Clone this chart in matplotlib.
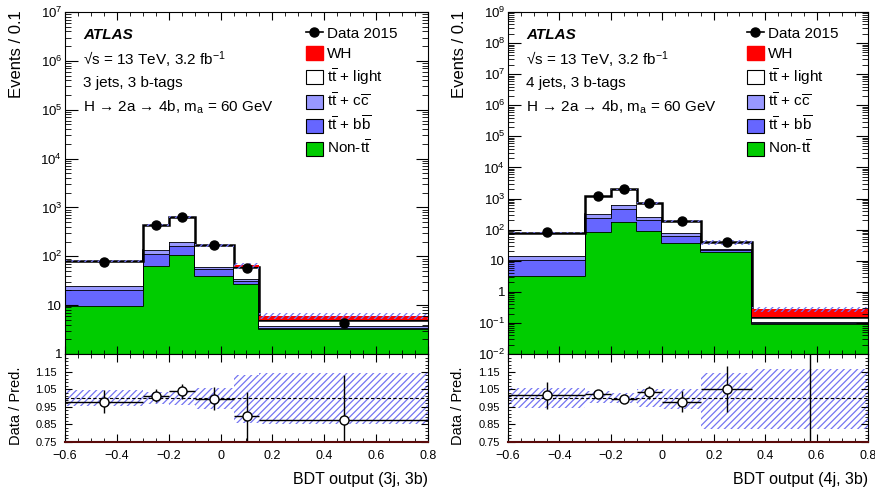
import numpy as np
import matplotlib
matplotlib.use("Agg")
from matplotlib import pyplot as plt
from matplotlib.patches import Patch
from matplotlib.lines import Line2D
from matplotlib.ticker import (LogLocator, FixedLocator, FuncFormatter,
                               MultipleLocator, NullFormatter)

plt.rcParams["font.family"] = ["Liberation Sans", "DejaVu Sans"]
plt.rcParams["mathtext.fontset"] = "custom"
plt.rcParams["mathtext.rm"] = "Liberation Sans"
plt.rcParams["mathtext.it"] = "Liberation Sans:italic"
plt.rcParams["mathtext.bf"] = "Liberation Sans:bold"
plt.rcParams["hatch.linewidth"] = 0.9

GREEN = "#00cc00"
BB = "#6666ff"
CC = "#9999ff"
RED = "#ff0000"
BAND = "#7474f2"

# ---- 3 jets, 3 b-tags ----
edges_3j = [-0.6, -0.3, -0.2, -0.1, 0.05, 0.15, 0.8]
nontt_3j = [9.6, 63, 105, 39, 27, 3.2]
ttbb_3j = [10.4, 48, 59, 15, 4, 0.2]
ttcc_3j = [5, 23, 28, 7, 4, 0.3]
ttlight_3j = [55, 298, 436, 107, 26, 1.3]
wh_3j = [0.1, 0.5, 0.8, 0.8, 4, 1.0]
data_3j = [78, 440, 650, 168, 57, 4.4]
ratio_3j = [0.98, 1.014, 1.037, 0.995, 0.897, 0.874]
ratio_dn_3j = [0.067, 0.035, 0.04, 0.065, 0.15, 0.2]
ratio_up_3j = [0.067, 0.035, 0.04, 0.065, 0.136, 0.256]
band_lo_3j = [0.957, 0.965, 0.96, 0.936, 0.86, 0.855]
band_hi_3j = [1.043, 1.035, 1.04, 1.056, 1.13, 1.14]

# ---- 4 jets, 3 b-tags ----
edges_4j = [-0.6, -0.3, -0.2, -0.1, 0.0, 0.15, 0.35, 0.8]
nontt_4j = [3.3, 82, 170, 90, 38, 19.5, 0.092]
ttbb_4j = [7.2, 158, 280, 114, 24, 2.5, 0.009]
ttcc_4j = [4, 70, 170, 50, 14, 1.5, 0.003]
ttlight_4j = [65.5, 890, 1370, 462, 117, 15.5, 0.051]
wh_4j = [0.1, 0.5, 1, 1, 1, 1.0, 0.115]
data_4j = [81, 1230, 1980, 740, 189, 41, 0]
ratio_4j = [1.018, 1.024, 0.995, 1.033, 0.98, 1.052, 0.0]
ratio_dn_4j = [0.078, 0.015, 0.015, 0.038, 0.06, 0.13, 0.0]
ratio_up_4j = [0.072, 0.015, 0.015, 0.038, 0.06, 0.128, 1.46]
band_lo_4j = [0.945, 0.97, 0.97, 0.95, 0.94, 0.826, 0.826]
band_hi_4j = [1.056, 1.037, 1.03, 1.05, 1.05, 1.14, 1.165]

TTBAR = r"$\mathrm{t}\overline{\mathrm{t}}$"
legend_labels = ["Data 2015", "WH", TTBAR + " + light",
                 TTBAR + r" + $\mathrm{c}\overline{\mathrm{c}}$",
                 TTBAR + r" + $\mathrm{b}\overline{\mathrm{b}}$",
                 "Non-" + TTBAR]


def pow_label(v, pos):
    e = int(round(np.log10(v)))
    if e == 0:
        return "1"
    if e == 1:
        return "10"
    return r"$10^{%d}$" % e


def x_label(v, pos):
    if abs(v) < 1e-9:
        return "0"
    return f"{v:.1f}".replace("-", "\u2212")


def draw_region(ax, rax, edges, comps, data, ratio, r_dn, r_up,
                band_lo, band_hi, ylim, jets_text, xlabel):
    edges = np.array(edges)
    widths = np.diff(edges)
    centers = edges[:-1] + widths / 2

    # stacked backgrounds + signal
    bottom = np.zeros(len(widths))
    for vals, color, outline, lw in comps:
        top = bottom + np.array(vals)
        ax.stairs(top, edges, baseline=np.maximum(bottom, 1e-6), fill=True,
                  color=color, lw=0)
        if outline:
            ax.stairs(top, edges, baseline=None, color="k", lw=lw)
        bottom = top
    total = bottom

    ax.bar(edges[:-1], total * (np.array(band_hi) - np.array(band_lo)),
           bottom=total * np.array(band_lo), width=widths, align="edge",
           facecolor="none", edgecolor=BAND, hatch="/////", lw=0)

    data = np.array(data, dtype=float)
    ok = data > 0
    ax.plot(centers[ok], data[ok], "o", color="k", ms=6.5)

    ax.set_yscale("log")
    ax.set_ylim(*ylim)
    ax.set_xlim(-0.6, 0.8)
    ax.yaxis.set_major_locator(LogLocator(base=10, numticks=30))
    ax.yaxis.set_minor_locator(LogLocator(base=10, subs=np.arange(2, 10), numticks=30))
    ax.yaxis.set_minor_formatter(NullFormatter())
    ax.yaxis.set_major_formatter(FuncFormatter(pow_label))
    for a in (ax, rax):
        a.xaxis.set_major_locator(MultipleLocator(0.2))
        a.xaxis.set_minor_locator(MultipleLocator(0.05))
        a.tick_params(which="both", direction="in", top=True, right=True)
        a.tick_params(axis="x", which="major", length=5.5)
        a.tick_params(axis="x", which="minor", length=3)
    ax.tick_params(axis="y", which="major", length=9, labelsize=9.5, pad=2)
    ax.tick_params(axis="y", which="minor", length=4.5)
    ax.tick_params(axis="x", labelbottom=False)

    kw = dict(transform=ax.transAxes, fontsize=11, va="center")
    ax.text(0.05, 0.933, "ATLAS", fontweight="bold", fontstyle="italic", **kw)
    ax.text(0.05, 0.861, "\u221as = 13 TeV, 3.2 fb$^{-1}$", **kw)
    ax.text(0.05, 0.792, jets_text, **kw)
    ax.text(0.05, 0.722, "H \u2192 2a \u2192 4b, m$_{\\mathrm{a}}$ = 60 GeV", **kw)

    handles = [Line2D([], [], color="k", marker="o", ms=6.5, lw=1.2),
               Patch(facecolor=RED, edgecolor=RED),
               Patch(facecolor="white", edgecolor="k", lw=0.8),
               Patch(facecolor=CC, edgecolor="k", lw=0.8),
               Patch(facecolor=BB, edgecolor="k", lw=0.8),
               Patch(facecolor=GREEN, edgecolor="k", lw=0.8)]
    ax.legend(handles, legend_labels, loc="upper left",
              bbox_to_anchor=(0.664, 0.96), frameon=False, fontsize=11,
              handlelength=1.1, handleheight=1.05, handletextpad=0.3,
              labelspacing=0.32, borderpad=0, borderaxespad=0)

    # ratio panel
    rax.bar(edges[:-1], np.array(band_hi) - np.array(band_lo),
            bottom=band_lo, width=widths, align="edge", facecolor="none",
            edgecolor=BAND, hatch="/////", lw=0)
    rax.axhline(1.0, color="k", ls=(0, (3, 2)), lw=0.8)
    rax.errorbar(centers, ratio, xerr=widths / 2, yerr=[r_dn, r_up], fmt="o",
                 mfc="white", mec="k", ms=6.5, ecolor="k", elinewidth=1,
                 capsize=0)
    rax.set_xlim(-0.6, 0.8)
    rax.set_ylim(0.75, 1.25)
    rax.yaxis.set_major_locator(FixedLocator([0.75, 0.85, 0.95, 1.05, 1.15]))
    rax.yaxis.set_minor_locator(FixedLocator(np.arange(0.75, 1.2501, 0.02)))
    rax.yaxis.set_major_formatter(FuncFormatter(lambda v, p: f"{v:.2f}"))
    rax.xaxis.set_major_formatter(FuncFormatter(x_label))
    rax.tick_params(axis="y", which="major", length=5, labelsize=8, pad=6)
    rax.tick_params(axis="y", which="minor", length=2.5)
    rax.tick_params(axis="x", labelsize=9, pad=6)
    rax.spines["bottom"].set_color("#5a0a0a")
    rax.spines["bottom"].set_linewidth(1.5)
    rax.set_xlabel(xlabel, loc="right", fontsize=11.5, labelpad=7)


fig = plt.figure(figsize=(8.75, 4.9), dpi=100)
W, H = 875, 490
ax_l = fig.add_axes([65 / W, 136 / H, 363 / W, 342 / H])
rax_l = fig.add_axes([65 / W, 48 / H, 363 / W, 88 / H])
ax_r = fig.add_axes([508 / W, 136 / H, 360 / W, 342 / H])
rax_r = fig.add_axes([508 / W, 48 / H, 360 / W, 88 / H])

comps_3j = [(nontt_3j, GREEN, True, 1.2), (ttbb_3j, BB, True, 1.2),
            (ttcc_3j, CC, True, 1.2), (ttlight_3j, "white", True, 1.8),
            (wh_3j, RED, False, 0)]
comps_4j = [(nontt_4j, GREEN, True, 1.2), (ttbb_4j, BB, True, 1.2),
            (ttcc_4j, CC, True, 1.2), (ttlight_4j, "white", True, 1.8),
            (wh_4j, RED, False, 0)]

draw_region(ax_l, rax_l, edges_3j, comps_3j, data_3j, ratio_3j, ratio_dn_3j,
            ratio_up_3j, band_lo_3j, band_hi_3j, (1, 1e7), "3 jets, 3 b-tags",
            "BDT output (3j, 3b)")
draw_region(ax_r, rax_r, edges_4j, comps_4j, data_4j, ratio_4j, ratio_dn_4j,
            ratio_up_4j, band_lo_4j, band_hi_4j, (1e-2, 1e9), "4 jets, 3 b-tags",
            "BDT output (4j, 3b)")

for x in (17, 459):
    fig.text(x / W, 1 - 10 / H, "Events / 0.1", rotation=90, ha="center",
             va="top", fontsize=12)
    fig.text((x - 1) / W, 1 - 406 / H, "Data / Pred.", rotation=90, ha="center",
             va="center", fontsize=10.5)

fig.savefig("out.png", dpi=100)
